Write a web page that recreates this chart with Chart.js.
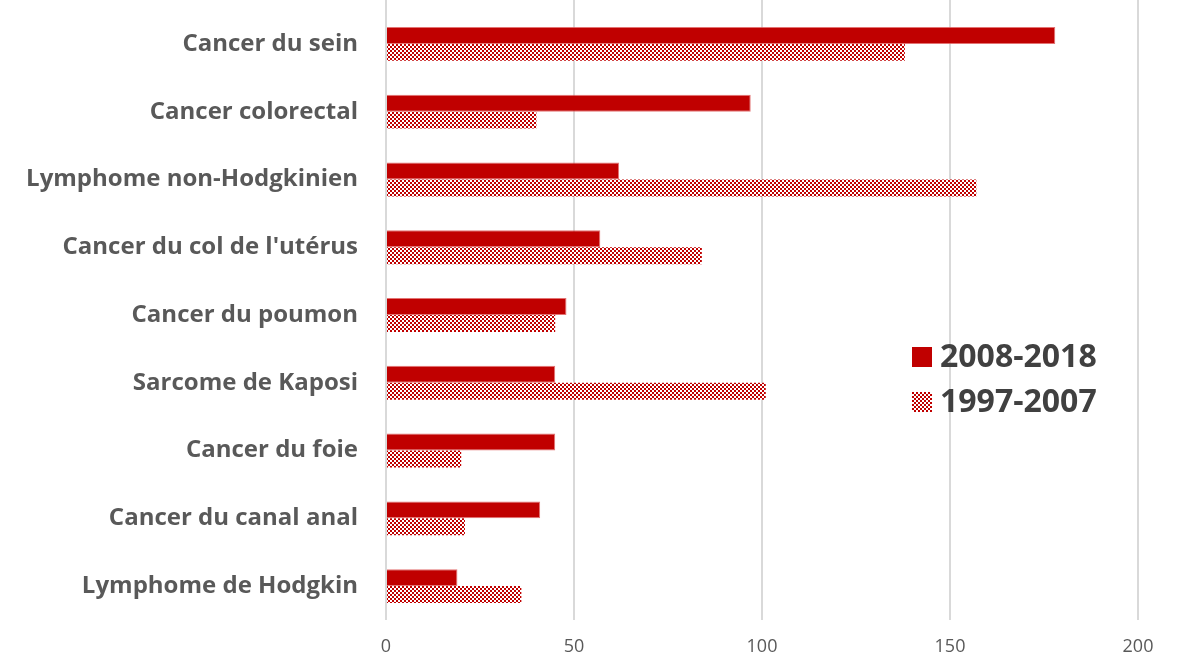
<!DOCTYPE html>
<html>
<head>
<meta charset="utf-8">
<script src="https://cdn.jsdelivr.net/npm/chart.js@4"></script>
<style>
html,body{margin:0;padding:0;background:#fff;}
#wrap{position:relative;width:1182px;height:663px;}
</style>
</head>
<body>
<div id="wrap"><canvas id="c" width="1182" height="663"></canvas></div>
<script>
const categories = ["Cancer du sein","Cancer colorectal","Lymphome non-Hodgkinien","Cancer du col de l'utérus","Cancer du poumon","Sarcome de Kaposi","Cancer du foie","Cancer du canal anal","Lymphome de Hodgkin"];
const seriesNames = ["2008-2018","1997-2007"];
const values2008_2018 = [178, 97, 62, 57, 48, 45, 45, 41, 19];
const values1997_2007 = [138, 40, 157, 84, 45, 101, 20, 21, 36];
const xTicks = [0, 50, 100, 150, 200];

const RED = "#C00000";
const FONT = "'Open Sans', Lato, sans-serif";
function makePattern(){
  const p = document.createElement('canvas');
  p.width = 4; p.height = 4;
  const g = p.getContext('2d');
  g.fillStyle = '#ffffff'; g.fillRect(0,0,4,4);
  g.fillStyle = RED;
  g.fillRect(0,0,2,2); g.fillRect(2,2,2,2);
  return g.createPattern(p,'repeat');
}
const ctx = document.getElementById('c').getContext('2d');
const pattern = makePattern();

const legendPlugin = {
  id:'customLegend',
  afterDraw(chart){
    const c = chart.ctx;
    c.save();
    c.font = "bold 32px " + FONT;
    c.textBaseline = 'middle';
    c.textAlign = 'left';
    const ys = [357, 402];
    chart.data.datasets.forEach((ds,i)=>{
      c.fillStyle = ds.backgroundColor;
      c.fillRect(912, ys[i]-10, 20, 20);
      c.fillStyle = '#404040';
      c.fillText(ds.label, 940, ys[i]+1);
    });
    c.restore();
  }
};

const gridTopPlugin = {
  id:'gridTop',
  beforeDatasetsDraw(chart){
    const c = chart.ctx, x = chart.scales.x, top = chart.chartArea.top;
    c.save();
    c.strokeStyle = '#d9d9d9'; c.lineWidth = 2;
    xTicks.forEach(v=>{
      const px = Math.round(x.getPixelForValue(v));
      c.beginPath(); c.moveTo(px, 0); c.lineTo(px, top); c.stroke();
    });
    c.restore();
  }
};

new Chart(ctx, {
  type:'bar',
  data:{
    labels: categories,
    datasets:[
      {label: seriesNames[0], data: values2008_2018, backgroundColor: RED, borderColor:'rgba(220,80,80,0.8)', borderWidth:1, categoryPercentage:0.5, barPercentage:1.0},
      {label: seriesNames[1], data: values1997_2007, backgroundColor: pattern, borderWidth:0, categoryPercentage:0.5, barPercentage:1.0}
    ]
  },
  options:{
    indexAxis:'y',
    responsive:false,
    animation:false,
    layout:{padding:{top:10,right:44,bottom:0,left:0}},
    plugins:{legend:{display:false}, tooltip:{enabled:false}},
    scales:{
      x:{
        min:0, max:200,
        afterBuildTicks(s){ s.ticks = xTicks.map(v=>({value:v})); },
        afterFit(s){ s.height = 43; s.paddingLeft = 0; s.paddingRight = 0; },
        grid:{color:'#d9d9d9', lineWidth:2, drawTicks:false},
        border:{display:false},
        ticks:{color:'#595959', font:{size:18, family:FONT}, padding:16}
      },
      y:{
        afterFit(s){ s.width = 386; s.paddingTop = 0; s.paddingBottom = 0; },
        grid:{display:false},
        border:{display:false},
        ticks:{color:'#595959', font:{size:24, weight:'bold', family:FONT}, padding:20}
      }
    }
  },
  plugins:[gridTopPlugin, legendPlugin]
});
</script>
</body>
</html>
